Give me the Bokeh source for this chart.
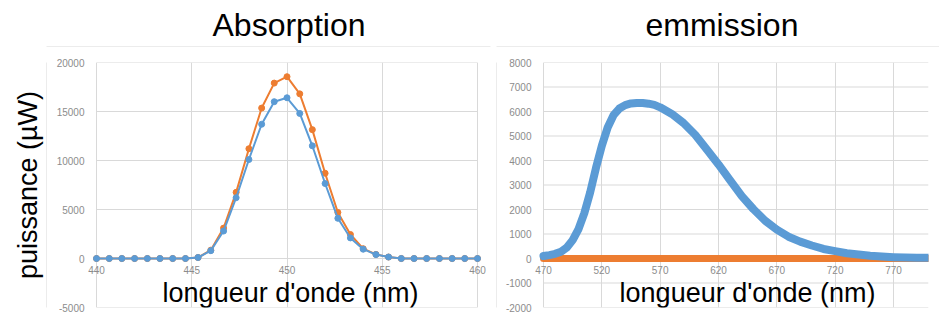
from bokeh.plotting import figure
from bokeh.layouts import row, column
from bokeh.models import FixedTicker, Range1d, Label
from bokeh.embed import file_html
from bokeh.resources import INLINE

# ---------------- data ----------------
# Absorption (wavelength in nm, power in µW)
abs_x = [440.0, 440.67, 441.33, 442.0, 442.67, 443.33, 444.0, 444.67, 445.33, 446.0,
         446.67, 447.33, 448.0, 448.67, 449.33, 450.0, 450.67, 451.33, 452.0, 452.67,
         453.33, 454.0, 454.67, 455.33, 456.0, 456.67, 457.33, 458.0, 458.67, 459.33, 460.0]
abs_blue = [0, 0, 0, 0, 0, 0, 0, 0, 100, 800,
            2800, 6200, 10100, 13700, 16000, 16400, 14800, 11500, 7650, 4100,
            2100, 950, 400, 150, 0, 0, 0, 0, 0, 0, 0]
abs_orange = [0, 0, 0, 0, 0, 0, 0, 0, 100, 850,
              3100, 6750, 11200, 15350, 17900, 18550, 16800, 13150, 8700, 4700,
              2450, 1000, 420, 150, 0, 0, 0, 0, 0, 0, 0]

# Emission
em_x = [470, 475, 480, 485, 490, 495, 500, 505, 510, 515, 520, 525, 530, 535, 540, 545, 550,
        555, 560, 565, 570, 580, 590, 600, 610, 620, 630, 640, 650, 660, 670, 680, 690,
        700, 710, 720, 730, 740, 750, 760, 770, 780, 790, 800]
em_blue = [100, 140, 190, 280, 450, 750, 1200, 1850, 2700, 3700, 4600, 5350, 5850, 6120, 6260, 6330, 6350,
           6350, 6320, 6270, 6170, 5900, 5530, 5050, 4450, 3840, 3190, 2550, 2010, 1540, 1180, 890, 690,
           530, 390, 300, 215, 160, 110, 80, 55, 40, 27, 27]
em_orange = [0] * len(em_x)

# axis extents and ticks
abs_xmin, abs_xmax = 440, 460
abs_ymin, abs_ymax = -5000, 20000
abs_xticks = [440, 445, 450, 455, 460]
abs_xlabels = ["440", "445", "450", "455", "460"]
abs_yticks = [-5000, 0, 5000, 10000, 15000, 20000]
abs_ylabels = ["-5000", "0", "5000", "10000", "15000", "20000"]

em_xmin, em_xmax = 470, 800
em_ymin, em_ymax = -2000, 8000
em_xticks = [470, 520, 570, 620, 670, 720, 770]
em_xlabels = ["470", "520", "570", "620", "670", "720", "770"]
em_yticks = [-2000, -1000, 0, 1000, 2000, 3000, 4000, 5000, 6000, 7000, 8000]
em_ylabels = ["-2000", "-1000", "0", "1000", "2000", "3000", "4000", "5000", "6000", "7000", "8000"]

BLUE = "#5B9BD5"
ORANGE = "#ED7D31"
GRID = "#d9d9d9"
FONT = "Liberation Sans"
TICK_COLOR = "#8c8c8c"
XLABEL = "longueur d'onde (nm)"
YLABEL = "puissance (µW)"
PAD = 9  # px of room so edge tick labels are not clipped
TITLE_H = 47
MAIN_H = 273


def bare_fig(width, height, left_px, right_px, top_px, bottom_px, y_axis=None):
    f = figure(width=width, height=height, x_range=Range1d(0, 1), y_range=Range1d(0, 1),
               output_backend="svg", toolbar_location=None,
               x_axis_location=None, y_axis_location=y_axis,
               min_border_left=left_px, min_border_right=right_px,
               min_border_top=top_px, min_border_bottom=bottom_px)
    f.grid.visible = False
    f.outline_line_color = None
    f.background_fill_color = GRID   # a 1px frame acts as the chart-area border line
    f.border_fill_color = "white"
    return f


def title_fig(width, left_px, right_px, text, offset):
    t = bare_fig(width, TITLE_H, left_px, right_px, TITLE_H - 1, 0)
    t.title.text = text
    t.title.text_font = FONT
    t.title.text_font_size = "32px"
    t.title.text_font_style = "normal"
    t.title.text_color = "black"
    t.title.align = "left"
    t.title.offset = offset
    t.title.standoff = 8
    return t


def make_fig(width, left_px, right_px, xmin, xmax, ymin, ymax, pad_left, pad_right):
    plot_w = width - left_px - right_px
    px_per_unit = (plot_w - pad_left - pad_right) / (xmax - xmin)
    xr = Range1d(xmin - pad_left / px_per_unit, xmax + pad_right / px_per_unit)
    return figure(width=width, height=MAIN_H, x_range=xr, y_range=Range1d(ymin, ymax),
                  output_backend="svg", toolbar_location=None,
                  min_border_left=left_px, min_border_right=right_px,
                  min_border_top=15, min_border_bottom=13)


def style(p, xticks, xlabels, yticks, ylabels, xmin, xmax, xlabel_pos):
    p.outline_line_color = None
    p.background_fill_color = "white"
    p.border_fill_color = "white"

    p.xaxis.ticker = FixedTicker(ticks=xticks)
    p.xaxis.major_label_overrides = dict(zip(xticks, xlabels))
    p.yaxis.ticker = FixedTicker(ticks=yticks)
    p.yaxis.major_label_overrides = dict(zip(yticks, ylabels))
    p.xgrid.ticker = FixedTicker(ticks=xticks)
    p.xgrid.grid_line_color = GRID
    p.xgrid.grid_line_width = 1
    p.ygrid.visible = False
    # horizontal gridlines restricted to the plotted wavelength span
    p.segment(x0=[xmin] * len(yticks), x1=[xmax] * len(yticks), y0=yticks, y1=yticks,
              line_color=GRID, line_width=1)

    for ax in (p.xaxis, p.yaxis):
        ax.axis_line_color = None
        ax.major_tick_line_color = None
        ax.minor_tick_line_color = None
        ax.major_tick_in = 0
        ax.major_tick_out = 0
        ax.major_label_text_font = FONT
        ax.major_label_text_font_size = "10px"
        ax.major_label_text_color = TICK_COLOR

    p.xaxis.fixed_location = 0
    p.xaxis.major_label_standoff = 7
    p.yaxis.major_label_standoff = 3

    p.add_layout(Label(x=xlabel_pos, x_units="screen", y=0, y_units="data", y_offset=-19,
                       text=XLABEL, text_align="center", text_baseline="top",
                       text_font=FONT, text_font_size="27px", text_color="black"))


# ---------------- y label strip (with the left chart-area border) ----------------
lab = bare_fig(47, MAIN_H, 46, 0, 0, 0, y_axis="left")
lab.yaxis.ticker = FixedTicker(ticks=[])
lab.yaxis.axis_line_color = None
lab.yaxis.major_tick_line_color = None
lab.yaxis.minor_tick_line_color = None
lab.yaxis.major_tick_in = 0
lab.yaxis.major_tick_out = 0
lab.yaxis.major_label_standoff = 0
lab.yaxis.axis_label = YLABEL
lab.yaxis.axis_label_standoff = 4
lab.yaxis.axis_label_text_font = FONT
lab.yaxis.axis_label_text_font_size = "27px"
lab.yaxis.axis_label_text_font_style = "normal"
lab.yaxis.axis_label_text_color = "black"

# ---------------- absorption ----------------
t1 = title_fig(495, 46, 5, "Absorption", 166)
p1 = make_fig(448, 40, 9, abs_xmin, abs_xmax, abs_ymin, abs_ymax, PAD, PAD)
style(p1, abs_xticks, abs_xlabels, abs_yticks, abs_ylabels, abs_xmin, abs_xmax, 203)
p1.line(abs_x, abs_orange, line_color=ORANGE, line_width=2)
p1.scatter(abs_x, abs_orange, size=6, fill_color=ORANGE, line_color=ORANGE)
p1.line(abs_x, abs_blue, line_color=BLUE, line_width=2)
p1.scatter(abs_x, abs_blue, size=6, fill_color=BLUE, line_color=BLUE)

# separator: left border of the emission chart area
sep = bare_fig(2, MAIN_H, 1, 0, 0, 0)

# ---------------- emission ----------------
t2 = title_fig(444, 1, 0, "emmission", 149)
p2 = make_fig(442, 37, 11, em_xmin, em_xmax, em_ymin, em_ymax, PAD, 0)
style(p2, em_xticks, em_xlabels, em_yticks, em_ylabels, em_xmin, em_xmax, 213)
p2.line(em_x, em_orange, line_color=ORANGE, line_width=7, line_cap="round")
p2.line(em_x, em_blue, line_color=BLUE, line_width=8, line_cap="round", line_join="round")

layout = column(row(t1, t2, spacing=0), row(lab, p1, sep, p2, spacing=0), spacing=0)
open("out.html", "w").write(file_html(layout, INLINE))
